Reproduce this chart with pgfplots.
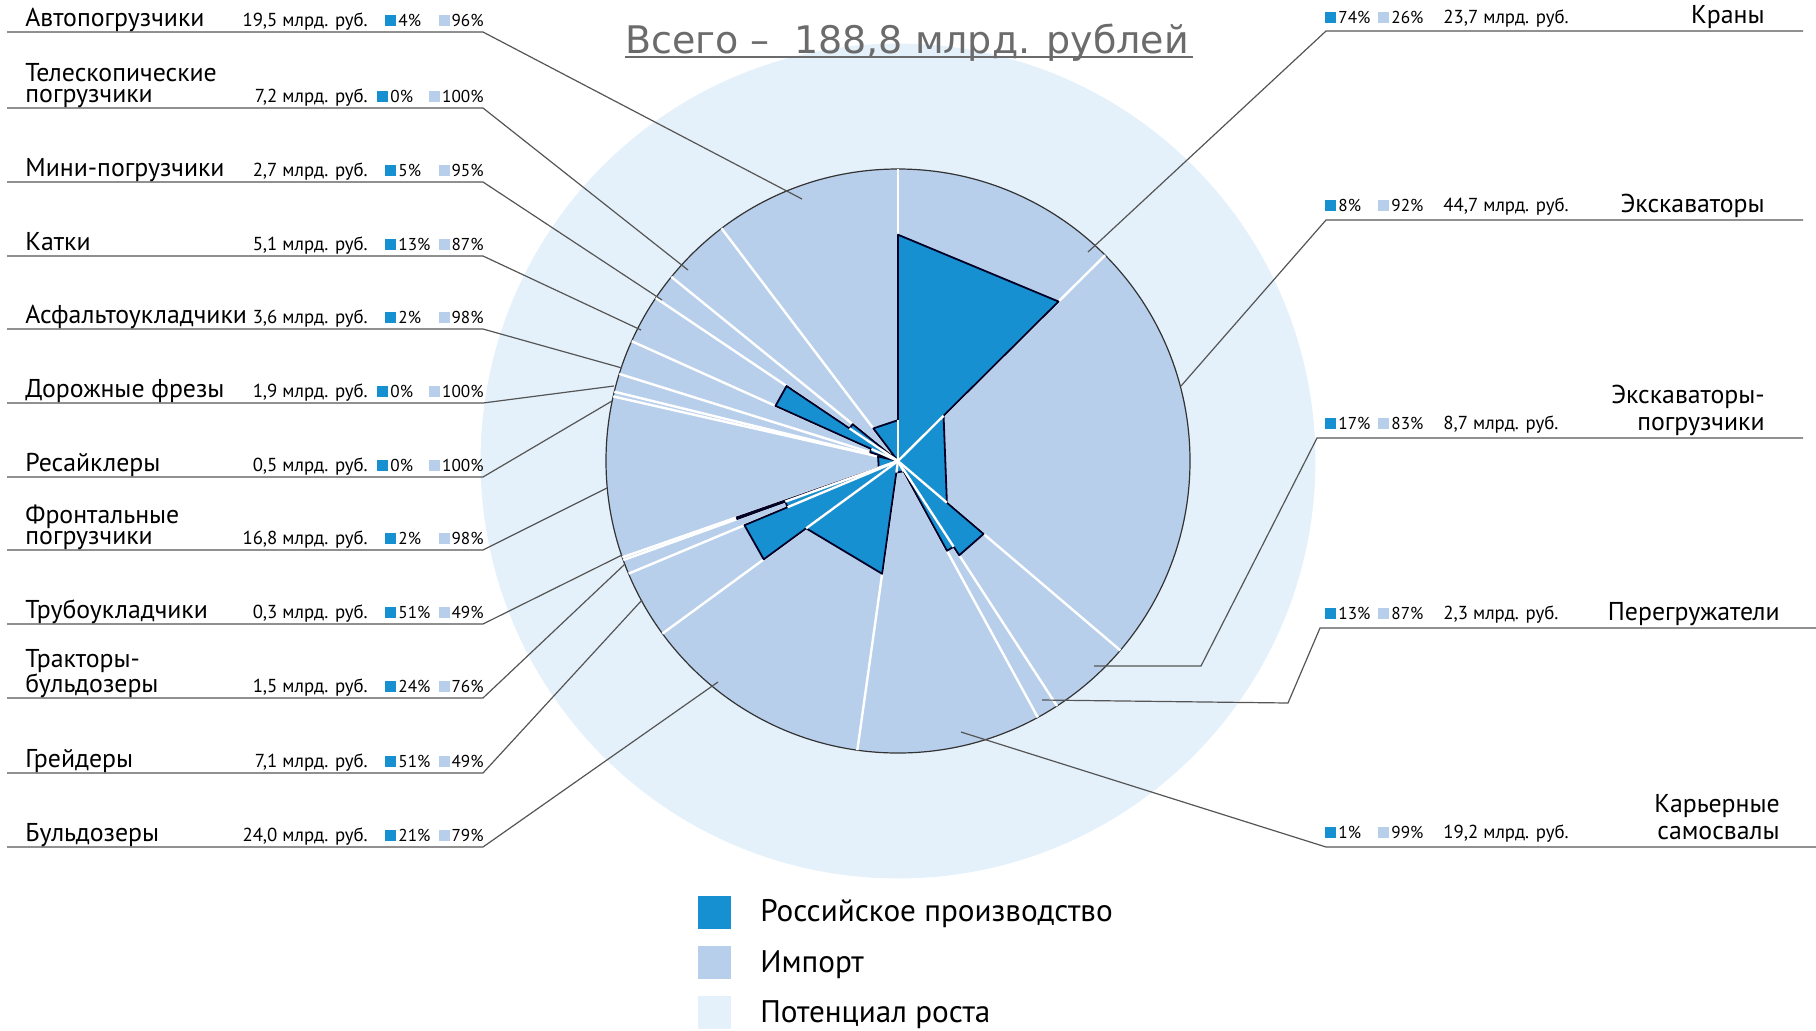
\documentclass[border=0pt]{standalone}
\usepackage{fontspec}
\setmainfont{PT Sans}
\newfontfamily\titlefont{DejaVu Sans}
\usepackage{pgfplots}
\usepackage{pgfplotstable}
\pgfplotsset{compat=1.18}

\definecolor{rus}{HTML}{1690D0}
\definecolor{imp}{HTML}{B8CFEB}
\definecolor{pot}{HTML}{E4F1FB}
\definecolor{ttl}{HTML}{6B6B6B}
\definecolor{lead}{HTML}{555555}

% Russian production wedges: cumulative market (bn rub) and radius (fraction of R)
\pgfplotstableread{
c r
0 0
0 0.775
23.7 0.775
23.7 0
23.7 0.22
68.4 0.22
68.4 0
68.4 0.385
77.1 0.385
77.1 0
77.1 0.35
79.4 0.35
79.4 0
79.4 0.04
98.6 0.04
98.6 0
98.6 0.39
122.6 0.39
122.6 0
122.6 0.57
129.7 0.57
129.7 0
129.7 0.41
131.2 0.41
131.2 0
131.2 0.585
131.5 0.585
131.5 0
131.5 0.07
148.3 0.07
148.3 0
150.7 0
150.7 0.10
154.3 0.10
154.3 0
154.3 0.46
159.4 0.46
159.4 0
159.4 0.20
162.1 0.20
162.1 0
169.3 0
169.3 0.14
188.8 0.14
188.8 0
}\poly

% sector boundaries and the smaller neighbouring radius
\pgfplotstableread{
c rm
0 0.14
23.7 0.22
68.4 0.22
77.1 0.35
79.4 0.04
98.6 0.04
122.6 0.39
129.7 0.41
131.2 0.41
131.5 0.07
148.3 0
148.8 0
150.7 0
154.3 0.10
159.4 0.20
162.1 0
169.3 0
}\dividers

\pgfplotstableread{
x y
7 32
483 32
802 199
nan nan
7 108
483 108
688 270
nan nan
7 182
483 182
662 300
nan nan
7 256
483 256
641 330
nan nan
7 329
483 329
622 368
nan nan
7 403
483 403
614 386
nan nan
7 477
483 477
612 401
nan nan
7 550
483 550
607 488
nan nan
7 624
483 624
622 555
nan nan
7 698
483 698
625 564
nan nan
7 773
483 773
642 600
nan nan
7 847
483 847
718 682
nan nan
1803 31
1326 31
1088 252
nan nan
1803 220
1326 220
1181 386
nan nan
1803 438
1317 438
1201 666
1094 666
nan nan
1816 628
1320 628
1288 703
1042 700
nan nan
1816 847
1326 847
961 732
}\leaders

\tikzset{
  nm/.style={font=\fontsize{12.9}{14}\selectfont, inner sep=0pt},
  vl/.style={font=\fontsize{9.4}{10}\selectfont, inner sep=0pt},
  pc/.style={font=\fontsize{8.6}{10}\selectfont, inner sep=0pt},
}
\newcommand{\sqd}{\textcolor{rus}{\rule{5.5pt}{5.5pt}}\hspace{1pt}}
\newcommand{\sql}{\textcolor{imp}{\rule{5.5pt}{5.5pt}}\hspace{1pt}}
\newcommand{\Ltwo}[2]{{\fontsize{12.9}{10.5}\selectfont\begin{tabular}[b]{@{}l@{}}#1\\#2\end{tabular}}}
\newcommand{\Rtwo}[2]{{\fontsize{12.9}{13.5}\selectfont\begin{tabular}[b]{@{}r@{}}#1\\#2\end{tabular}}}
\newcommand{\Lrow}[5]{%
  \node[vl,anchor=base east] at (axis cs:368,#1) {#2 млрд. руб.};
  \node[pc,anchor=base west] at (axis cs:#5,#1) {\sqd#3\%};
  \node[pc,anchor=base east] at (axis cs:484,#1) {\sql#4\%};
}
\newcommand{\Rrow}[4]{%
  \node[pc,anchor=base west] at (axis cs:1325,#1) {\sqd#2\%};
  \node[pc,anchor=base west] at (axis cs:1378,#1) {\sql#3\%};
  \node[vl,anchor=base west] at (axis cs:1443,#1) {#4 млрд. руб.};
}

\begin{document}
\begin{tikzpicture}
\begin{axis}[name=ax,
  x=0.5pt, y=0.5pt, y dir=reverse,
  xmin=0, xmax=1816, ymin=0, ymax=1030,
  hide axis, clip=false, clip marker paths=true, no markers,
  legend style={at={(0.381,0.1345)}, anchor=north west, draw=none, fill=none,
    font=\fontsize{15.6}{18}\selectfont, row sep=8.6pt},
  legend cell align=left,
]
% potential disk and import disk
\addplot[only marks, mark=*, mark size=208.5pt, mark options={fill=pot, draw=pot}, forget plot] coordinates {(898,461)};
\addplot[only marks, mark=*, mark size=146pt, mark options={fill=imp, draw=black!80, line width=0.6pt}, forget plot] coordinates {(898,461)};
% white sector dividers
\addplot[white, line width=1.2pt, forget plot,
  quiver={u={292*sin(1.9067797*\thisrow{c})}, v={-292*cos(1.9067797*\thisrow{c})}}]
  table[x expr=898, y expr=461] {\dividers};
% russian production
\addplot[fill=rus, draw=black!85!blue, line width=0.9pt, line join=round, forget plot]
  table[x expr={898+292*\thisrow{r}*sin(1.9067797*\thisrow{c})},
        y expr={461-292*\thisrow{r}*cos(1.9067797*\thisrow{c})}] {\poly};
\addplot[white, line width=1.2pt, forget plot,
  quiver={u={292*\thisrow{rm}*sin(1.9067797*\thisrow{c})}, v={-292*\thisrow{rm}*cos(1.9067797*\thisrow{c})}}]
  table[x expr=898, y expr=461] {\dividers};
% leaders
\addplot[lead, line width=0.6pt, unbounded coords=jump, forget plot] table {\leaders};
% title
\node[anchor=base west, inner sep=0pt, font=\titlefont\fontsize{19}{22}\selectfont, text=ttl] at (axis cs:625,53) {Всего –\ \ 188,8 млрд. рублей};
\addplot[ttl, line width=1.2pt, forget plot] coordinates {(625,57) (1193,57)};

% left labels
\node[nm,anchor=base west] at (axis cs:25,26) {Автопогрузчики};
\Lrow{26}{19,5}{4}{96}{385}
\node[inner sep=0pt,anchor=base west] at (axis cs:25,102) {\Ltwo{Телескопические}{погрузчики}};
\Lrow{102}{7,2}{0}{100}{377}
\node[nm,anchor=base west] at (axis cs:25,176) {Мини-погрузчики};
\Lrow{176}{2,7}{5}{95}{385}
\node[nm,anchor=base west] at (axis cs:25,250) {Катки};
\Lrow{250}{5,1}{13}{87}{385}
\node[nm,anchor=base west] at (axis cs:25,323) {Асфальтоукладчики};
\Lrow{323}{3,6}{2}{98}{385}
\node[nm,anchor=base west] at (axis cs:25,397) {Дорожные фрезы};
\Lrow{397}{1,9}{0}{100}{377}
\node[nm,anchor=base west] at (axis cs:25,471) {Ресайклеры};
\Lrow{471}{0,5}{0}{100}{377}
\node[inner sep=0pt,anchor=base west] at (axis cs:25,544) {\Ltwo{Фронтальные}{погрузчики}};
\Lrow{544}{16,8}{2}{98}{385}
\node[nm,anchor=base west] at (axis cs:25,618) {Трубоукладчики};
\Lrow{618}{0,3}{51}{49}{385}
\node[inner sep=0pt,anchor=base west] at (axis cs:25,692) {\Ltwo{Тракторы-}{бульдозеры}};
\Lrow{692}{1,5}{24}{76}{385}
\node[nm,anchor=base west] at (axis cs:25,767) {Грейдеры};
\Lrow{767}{7,1}{51}{49}{385}
\node[nm,anchor=base west] at (axis cs:25,841) {Бульдозеры};
\Lrow{841}{24,0}{21}{79}{385}

% right labels
\node[nm,anchor=base east] at (axis cs:1765,23) {Краны};
\Rrow{23}{74}{26}{23,7}
\node[nm,anchor=base east] at (axis cs:1765,212) {Экскаваторы};
\Rrow{211}{8}{92}{44,7}
\node[inner sep=0pt,anchor=base east] at (axis cs:1765,430) {\Rtwo{Экскаваторы-}{погрузчики}};
\Rrow{429}{17}{83}{8,7}
\node[nm,anchor=base east] at (axis cs:1780,620) {Перегружатели};
\Rrow{619}{13}{87}{2,3}
\node[inner sep=0pt,anchor=base east] at (axis cs:1780,839) {\Rtwo{Карьерные}{самосвалы}};
\Rrow{838}{1}{99}{19,2}

% legend
\addlegendimage{legend image code/.code={\fill[rus] (0pt,-8pt) rectangle (16pt,8pt); \path (28.6pt,0pt);}}
\addlegendentry{Российское производство}
\addlegendimage{legend image code/.code={\fill[imp] (0pt,-8pt) rectangle (16pt,8pt); \path (28.6pt,0pt);}}
\addlegendentry{Импорт}
\addlegendimage{legend image code/.code={\fill[pot] (0pt,-8pt) rectangle (16pt,8pt); \path (28.6pt,0pt);}}
\addlegendentry{Потенциал роста}
\end{axis}
\pgfresetboundingbox
\path (ax.south west) rectangle (ax.north east);
\end{tikzpicture}
\end{document}
